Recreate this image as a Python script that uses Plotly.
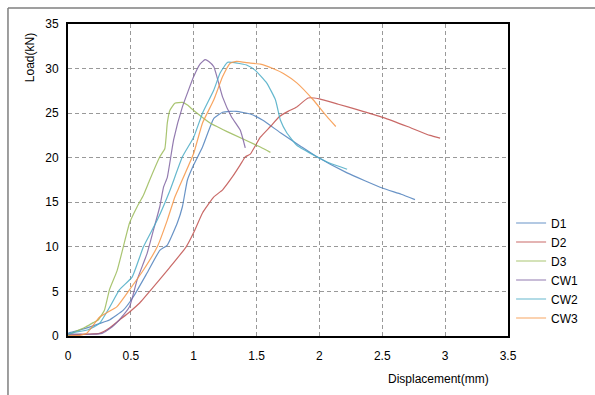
import plotly.graph_objects as go

# ---- data ----
series_names = ["D1", "D2", "D3", "CW1", "CW2", "CW3"]
series_colors = ["#4f81bd", "#c0504d", "#9bbb59", "#8064a2", "#4bacc6", "#f79646"]

d1_x = [0.0, 0.02, 0.1, 0.17, 0.25, 0.33, 0.44, 0.52, 0.63, 0.73, 0.79, 0.87, 0.91, 0.95, 1.0, 1.07, 1.16, 1.23, 1.29, 1.34, 1.45, 1.55, 1.69, 1.85, 1.98, 2.22, 2.5, 2.65, 2.76]
d1_y = [0.3, 0.4, 0.7, 1.0, 1.4, 1.8, 2.9, 4.4, 7.1, 9.6, 10.2, 12.7, 14.5, 17.5, 19.2, 21.2, 24.4, 25.1, 25.2, 25.2, 24.9, 24.2, 22.8, 21.3, 20.1, 18.3, 16.6, 15.9, 15.3]

d2_x = [0.0, 0.16, 0.25, 0.33, 0.41, 0.49, 0.57, 0.68, 0.81, 0.94, 1.0, 1.07, 1.16, 1.23, 1.3, 1.37, 1.41, 1.45, 1.53, 1.61, 1.68, 1.75, 1.82, 1.91, 2.0, 2.15, 2.3, 2.51, 2.7, 2.88, 2.96]
d2_y = [0.1, 0.2, 0.3, 0.9, 1.8, 2.7, 3.7, 5.5, 7.7, 10.0, 11.6, 13.8, 15.6, 16.4, 17.7, 19.2, 20.1, 20.4, 22.3, 23.5, 24.6, 25.2, 25.7, 26.7, 26.6, 26.0, 25.4, 24.5, 23.5, 22.5, 22.2]

d3_x = [0.0, 0.03, 0.14, 0.2, 0.24, 0.29, 0.33, 0.39, 0.44, 0.49, 0.55, 0.6, 0.65, 0.73, 0.77, 0.79, 0.81, 0.85, 0.91, 0.95, 1.0, 1.13, 1.3, 1.53, 1.61]
d3_y = [0.0, 0.3, 1.0, 1.5, 1.8, 2.9, 5.2, 7.3, 10.0, 12.7, 14.5, 15.8, 17.5, 20.1, 21.0, 23.9, 25.3, 26.1, 26.2, 25.9, 25.3, 23.9, 22.7, 21.2, 20.6]

cw1_x = [0.0, 0.1, 0.2, 0.27, 0.35, 0.42, 0.49, 0.55, 0.63, 0.68, 0.73, 0.76, 0.79, 0.84, 0.91, 1.0, 1.05, 1.09, 1.12, 1.16, 1.23, 1.3, 1.37, 1.41]
cw1_y = [0.2, 0.2, 0.2, 0.3, 1.0, 2.0, 3.3, 6.3, 9.3, 11.9, 14.5, 16.7, 17.8, 22.0, 25.7, 29.1, 30.5, 31.0, 30.8, 30.2, 26.8, 24.6, 23.1, 21.1]

cw2_x = [0.0, 0.05, 0.16, 0.25, 0.33, 0.41, 0.51, 0.6, 0.71, 0.81, 0.91, 1.0, 1.07, 1.16, 1.21, 1.27, 1.35, 1.42, 1.49, 1.58, 1.65, 1.69, 1.74, 1.82, 1.98, 2.08, 2.22]
cw2_y = [0.2, 0.4, 0.7, 1.4, 3.2, 5.2, 6.6, 10.0, 13.0, 16.3, 20.1, 22.3, 25.0, 27.6, 29.5, 30.7, 30.6, 30.4, 29.8, 28.4, 26.5, 24.2, 22.8, 21.4, 20.1, 19.4, 18.7]

cw3_x = [0.0, 0.1, 0.15, 0.25, 0.39, 0.49, 0.6, 0.71, 0.79, 0.85, 0.89, 1.0, 1.07, 1.16, 1.23, 1.29, 1.34, 1.45, 1.53, 1.63, 1.72, 1.82, 1.95, 2.06, 2.13]
cw3_y = [0.0, 0.1, 0.3, 2.1, 3.3, 5.2, 7.4, 10.0, 13.0, 15.6, 16.9, 20.5, 23.9, 26.5, 29.1, 30.6, 30.8, 30.6, 30.5, 30.0, 29.4, 28.4, 26.5, 24.6, 23.5]

xs = [d1_x, d2_x, d3_x, cw1_x, cw2_x, cw3_x]
ys = [d1_y, d2_y, d3_y, cw1_y, cw2_y, cw3_y]

x_ticks = [0, 0.5, 1, 1.5, 2, 2.5, 3, 3.5]
y_ticks = [0, 5, 10, 15, 20, 25, 30, 35]

fig = go.Figure()
for name, color, x, y in zip(series_names, series_colors, xs, ys):
    fig.add_trace(go.Scatter(x=x, y=y, mode="lines", name=name, opacity=0.85,
                             line=dict(color=color, width=1.2, shape="spline", smoothing=0.4)))

font_family = "Liberation Sans, Arial, sans-serif"

fig.update_layout(
    width=595, height=395,
    margin=dict(l=68, r=87, t=24, b=59),
    paper_bgcolor="white", plot_bgcolor="white",
    font=dict(family=font_family, size=12, color="black"),
    showlegend=True,
    legend=dict(x=1.007, xanchor="left", y=0.21, yanchor="middle",
                bgcolor="rgba(0,0,0,0)", font=dict(size=12), tracegroupgap=0,
                itemwidth=30),
    xaxis=dict(range=[0, 3.5], tickvals=x_ticks, ticktext=[f"{v:g}" for v in x_ticks],
               showgrid=True, gridcolor="#999999", griddash="4px,3px", gridwidth=1,
               showline=True, linecolor="black", linewidth=2, mirror=True,
               zeroline=False, ticks="", ticklabelstandoff=8),
    yaxis=dict(range=[0, 35], tickvals=y_ticks, ticktext=[str(v) for v in y_ticks],
               showgrid=True, gridcolor="#999999", griddash="4px,3px", gridwidth=1,
               showline=True, linecolor="black", linewidth=2, mirror=True,
               zeroline=False, ticks="", ticklabelstandoff=5),
    annotations=[
        dict(text="Load(kN)", xref="paper", yref="paper", x=-0.086, y=0.891,
             xanchor="center", yanchor="middle",
             textangle=-90, showarrow=False, font=dict(size=12)),
        dict(text="Displacement(mm)", xref="paper", yref="paper", x=0.841, y=-0.138,
             xanchor="center", yanchor="middle",
             showarrow=False, font=dict(size=12)),
    ],
    shapes=[
        dict(type="line", xref="paper", yref="paper", x0=-0.1364, x1=1.3, y0=1.0513, y1=1.0513,
             line=dict(color="#7f7f7f", width=1.5)),
        dict(type="line", xref="paper", yref="paper", x0=-0.1364, x1=-0.1364, y0=-0.3, y1=1.0513,
             line=dict(color="#7f7f7f", width=1.5)),
    ],
)

fig.write_html("out.html", config={"displayModeBar": False},
               post_script="document.body.style.margin='0';")
